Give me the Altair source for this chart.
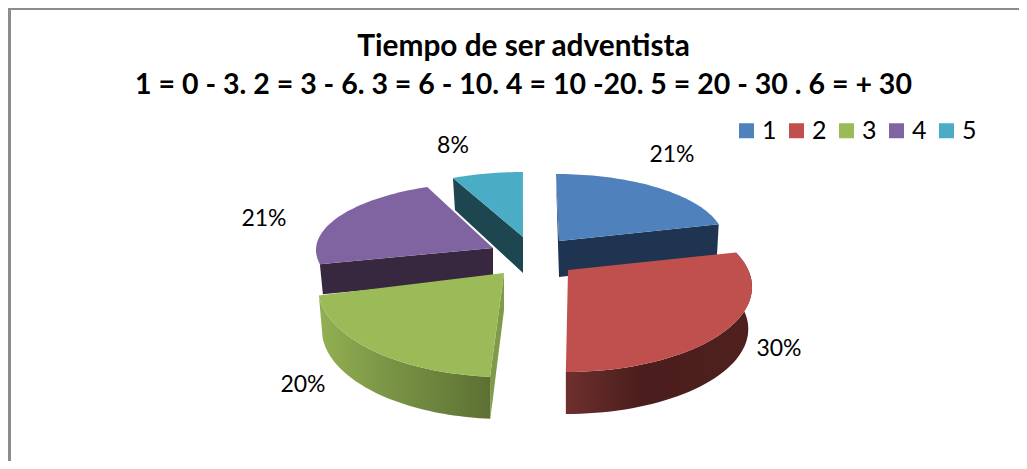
import math
import altair as alt
import pandas as pd

categories = ["1", "2", "3", "4", "5"]
shares = [21, 30, 20, 21, 8]
label_texts = ["21%", "30%", "20%", "21%", "8%"]
colors = ["#4f81bd", "#c0504d", "#9bbb59", "#8064a2", "#4bacc6"]
title_lines = ["Tiempo de ser adventista",
               "1 = 0 - 3. 2 = 3 - 6. 3 = 6 - 10. 4 = 10 -20. 5 = 20 - 30 . 6 = + 30"]

# 3-D view of each exploded slice: apex, rim ellipse, start angle, angular stretch
VIEW = {
    "1": dict(ax=559, ay=241, cx=556, cy=241, rx=168, ry=67, a0=0, k=1.0),
    "2": dict(ax=568, ay=270, cx=566, cy=287, rx=186, ry=85, a0=66, k=1.056),
    "3": dict(ax=504, ay=273, cx=505, cy=287, rx=187, ry=90, a0=184.6, k=1.11),
    "4": dict(ax=493, ay=248, cx=494, cy=250, rx=178, ry=68, a0=258, k=1.058),
    "5": dict(ax=523, ay=237, cx=523, cy=237, rx=167, ry=65, a0=335.2, k=0.86),
}
LABEL_POS = {"1": (672, 155), "2": (779, 349), "3": (303, 385), "4": (264, 219), "5": (453, 146)}


def rim(v, a, b, dy=0.0, shrink=1.0, n=48):
    out = []
    for i in range(n + 1):
        t = math.radians(a + (b - a) * i / n)
        out.append((v["cx"] + v["rx"] * shrink * math.sin(t), v["cy"] + dy - v["ry"] * math.cos(t)))
    return out


def frame(points):
    return pd.DataFrame({"px": [p[0] for p in points], "py": [p[1] for p in points],
                         "i": list(range(len(points)))})


xs = alt.Scale(domain=[8, 1019], range=[0, 1011], nice=False, zero=False)
ys = alt.Scale(domain=[8, 461], range=[0, 453], nice=False, zero=False)
cs = alt.Scale(domain=categories, range=colors)


def poly(points, fill, cat=None):
    d = frame(points)
    if cat is None:
        mk = alt.Chart(d).mark_line(filled=True, fill=fill, stroke=None, interpolate="linear")
        return mk.encode(x=alt.X("px:Q", scale=xs, axis=None), y=alt.Y("py:Q", scale=ys, axis=None),
                         order="i:Q")
    d["slice"] = cat
    return alt.Chart(d).mark_line(filled=True, stroke=None, interpolate="linear").encode(
        x=alt.X("px:Q", scale=xs, axis=None), y=alt.Y("py:Q", scale=ys, axis=None), order="i:Q",
        fill=alt.Fill("slice:N", scale=cs, legend=alt.Legend(
            title=None, orient="none", legendX=726, legendY=110, direction="horizontal", columns=5,
            symbolType="square", symbolSize=225, symbolStrokeWidth=0, symbolOpacity=1,
            labelFont="Lato", labelFontSize=25, labelColor="#000000", labelOffset=3,
            columnPadding=7, padding=0)),
    )


def span(cat):
    idx = categories.index(cat)
    v = VIEW[cat]
    return v, v["a0"], v["a0"] + shares[idx] * 3.6 * v["k"]


layers = []

# frame
layers.append(alt.Chart(pd.DataFrame({"a": [0]})).mark_rule(color="#8c8c8c", strokeWidth=3).encode(
    x=alt.value(1.5), y=alt.value(0), y2=alt.value(453)))
layers.append(alt.Chart(pd.DataFrame({"a": [0]})).mark_rule(color="#8c8c8c", strokeWidth=2).encode(
    x=alt.value(0), x2=alt.value(1011), y=alt.value(1)))

# slice 5
v, a, b = span("5")
r = rim(v, a, b)
layers.append(poly([r[0], (v["ax"], v["ay"]), (v["ax"], v["ay"] + 36), (r[0][0] + 2, r[0][1] + 32)], "#1d4650"))
layers.append(poly([(v["ax"], v["ay"])] + r, None, "5"))

# slice 1
v, a, b = span("1")
r = rim(v, a, b)
layers.append(poly([r[0], (v["ax"], v["ay"]), (v["ax"], v["ay"] + 36), (r[0][0] + 1, r[0][1] + 36)], "#1f3450"))
layers.append(poly([(v["ax"], v["ay"]), r[-1], (r[-1][0] - 2, r[-1][1] + 35), (v["ax"], v["ay"] + 36)], "#1f3450"))
layers.append(poly([(v["ax"], v["ay"])] + r, None, "1"))

# slice 4
v, a, b = span("4")
r = rim(v, a, b)
layers.append(poly([(v["ax"], v["ay"]), r[0], (r[0][0] + 3, r[0][1] + 30), (v["ax"], v["ay"] + 30)], "#38283f"))
layers.append(poly([(v["ax"], v["ay"])] + r, None, "4"))

# slice 3
v, a, b = span("3")
r = rim(v, a, b)
rb = rim(v, a, b, dy=42, shrink=0.98)
green_wall = alt.Gradient(gradient="linear", x1=0, x2=1, y1=0, y2=0, stops=[
    alt.GradientStop(color="#92b051", offset=0), alt.GradientStop(color="#7d9848", offset=0.35),
    alt.GradientStop(color="#5c7033", offset=1)])
layers.append(poly(r + rb[::-1], green_wall))
layers.append(poly([(v["ax"], v["ay"]), (v["ax"], v["ay"] + 37), rb[0], r[0]], "#7f9a48"))
layers.append(poly([(v["ax"], v["ay"])] + r, None, "3"))

# slice 2
v, a, b = span("2")
r = rim(v, a, b)
rb = rim(v, a, b, dy=42, shrink=0.98)
red_wall = alt.Gradient(gradient="linear", x1=1, x2=0, y1=0, y2=0, stops=[
    alt.GradientStop(color="#4f201e", offset=0), alt.GradientStop(color="#4a1e1d", offset=0.6),
    alt.GradientStop(color="#6e302d", offset=1)])
layers.append(poly(r + rb[::-1], red_wall))
layers.append(poly([(v["ax"], v["ay"])] + r, None, "2"))

# percent labels
labels = pd.DataFrame({"px": [LABEL_POS[c][0] for c in categories],
                       "py": [LABEL_POS[c][1] for c in categories],
                       "t": label_texts})
layers.append(alt.Chart(labels).mark_text(font="Lato", fontSize=23, color="#000000", baseline="middle").encode(
    x=alt.X("px:Q", scale=xs, axis=None), y=alt.Y("py:Q", scale=ys, axis=None), text="t:N"))

# title
for line, size, yy in zip(title_lines, [29.8, 28.5], [47, 85]):
    titles = pd.DataFrame({"px": [523.5], "py": [yy], "t": [line]})
    layers.append(alt.Chart(titles).mark_text(font="Lato", fontSize=size, fontWeight="bold", color="#000000",
                                              baseline="middle").encode(
        x=alt.X("px:Q", scale=xs, axis=None), y=alt.Y("py:Q", scale=ys, axis=None), text="t:N"))

chart = alt.layer(*layers).properties(
    width=1011, height=453, padding=0, autosize=alt.AutoSizeParams(type="none"),
    background="#ffffff",
).configure_view(stroke=None)

chart.save("out.html", embed_options={"renderer": "svg", "actions": False})
